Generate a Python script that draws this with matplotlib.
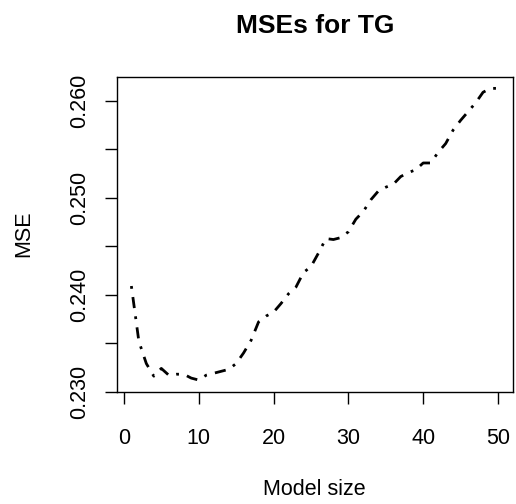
import matplotlib
matplotlib.use("Agg")
import matplotlib.pyplot as plt
import numpy as np

plt.rcParams['font.family'] = ['Liberation Sans', 'DejaVu Sans']

model_size = list(range(1, 51))
mse = [0.2409, 0.2352, 0.2329, 0.2316, 0.2324, 0.2317, 0.2318, 0.2318, 0.2314, 0.2312,
       0.2317, 0.2319, 0.2321, 0.2323, 0.2329, 0.2340, 0.2353, 0.2372, 0.2378, 0.2382,
       0.2391, 0.2401, 0.2408, 0.2423, 0.2429, 0.2443, 0.2458, 0.2457, 0.2459, 0.2465,
       0.2478, 0.2486, 0.2498, 0.2507, 0.2511, 0.2514, 0.2522, 0.2526, 0.2529, 0.2536,
       0.2536, 0.2547, 0.2556, 0.2570, 0.2580, 0.2589, 0.2598, 0.2609, 0.2613, 0.2613]
x_ticks = [0, 10, 20, 30, 40, 50]
y_ticks = [0.230, 0.235, 0.240, 0.245, 0.250, 0.255, 0.260]
y_labels = ["0.230", "", "0.240", "", "0.250", "", "0.260"]

W, H = 516, 504
fig = plt.figure(figsize=(W / 100, H / 100), dpi=100)
left, right, top, bottom = 116.7, 512.7, 76.7, 391.7
ax = fig.add_axes([left / W, (H - bottom) / H, (right - left) / W, (bottom - top) / H])

fs = 15.5
ax.plot(model_size, mse, color='black', linewidth=2.0,
        dashes=(1, 3, 4, 3), dash_capstyle='butt', solid_capstyle='butt')

# R-style 4% axis extension
xr = max(model_size) - min(model_size)
ax.set_xlim(min(model_size) - 0.04 * xr, max(model_size) + 0.04 * xr)
yr = max(mse) - min(mse)
ax.set_ylim(min(mse) - 0.04 * yr, max(mse) + 0.04 * yr)

ax.set_xticks(x_ticks)
ax.set_xticklabels([str(t) for t in x_ticks])
ax.set_yticks(y_ticks)
ax.set_yticklabels(y_labels)

for s in ax.spines.values():
    s.set_linewidth(1.0)
ax.tick_params(axis='both', length=8.4, width=1.0, labelsize=fs, color='black')
ax.tick_params(axis='x', pad=17.5)
ax.tick_params(axis='y', pad=11, labelrotation=90)
for lab in ax.get_yticklabels():
    lab.set_va('center')

ax.set_title("MSEs for TG", fontsize=19, fontweight='bold', pad=31.5)
ax.set_xlabel("Model size", fontsize=fs, va='baseline')
ax.xaxis.set_label_coords(0.5, (9 - (H - bottom)) / (bottom - top))
ax.set_ylabel("MSE", fontsize=fs, va='center')
ax.yaxis.set_label_coords((23.5 - left) / (right - left), 0.5)

fig.savefig("out.png", dpi=100)
